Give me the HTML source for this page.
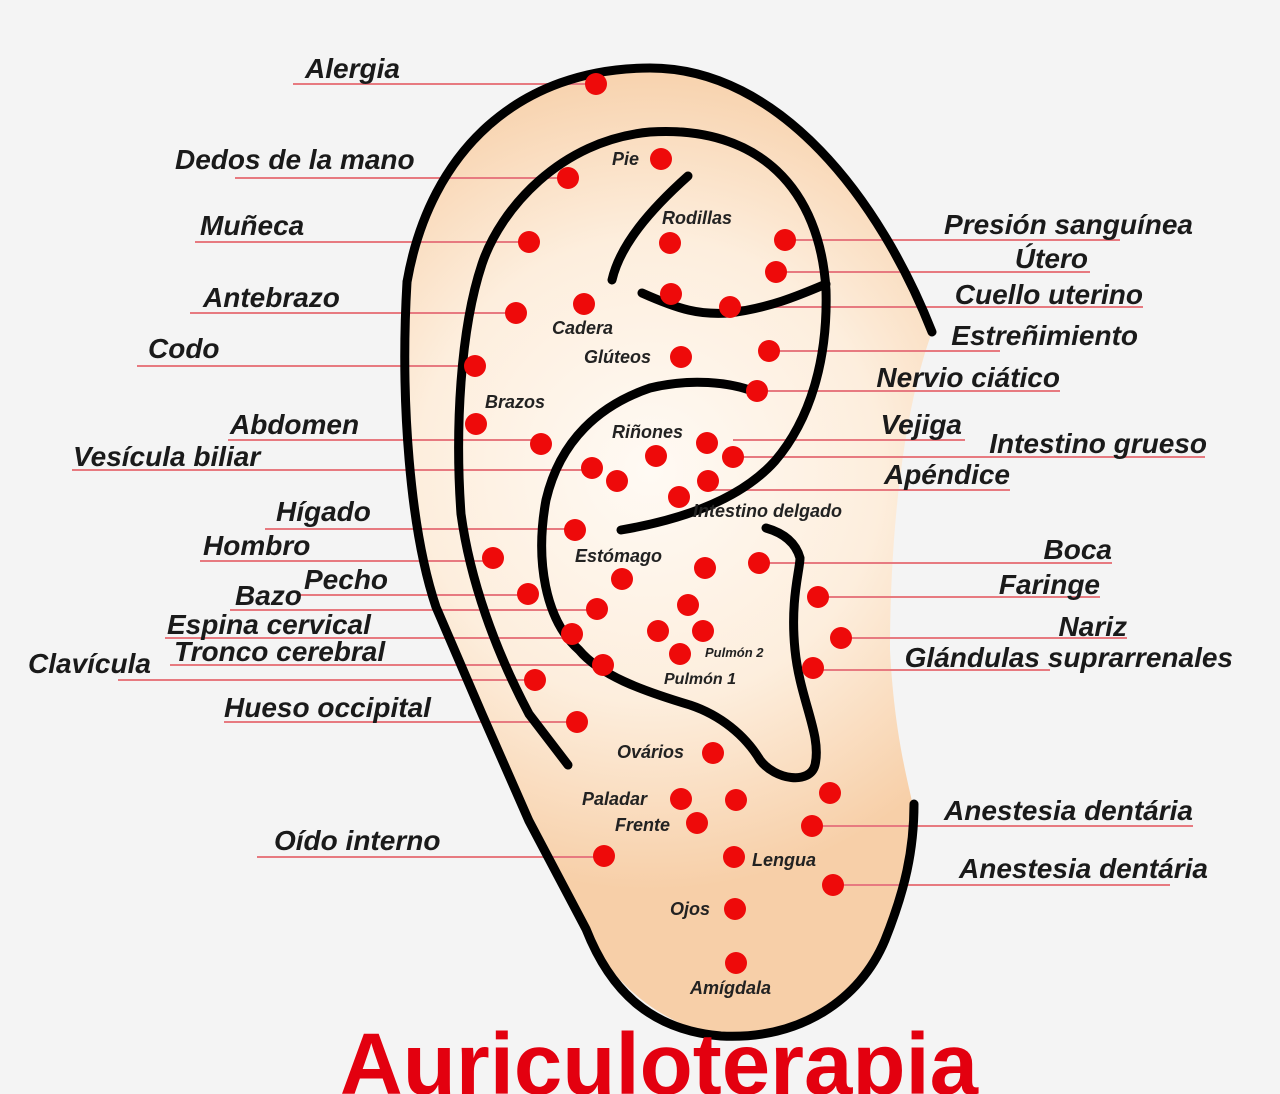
<!DOCTYPE html>
<html><head><meta charset="utf-8"><style>
html,body{margin:0;padding:0;background:#f4f4f4;}
svg{display:block}
.l{font-family:"Liberation Sans",sans-serif;font-weight:bold;font-style:italic;font-size:28px;fill:#1a1a1a}
.s{font-family:"Liberation Sans",sans-serif;font-weight:bold;font-style:italic;font-size:18px;fill:#222}
.ln{stroke:#e77a80;stroke-width:2;fill:none}
.k{stroke:#000;fill:none;stroke-linecap:round}
</style></head><body>
<svg width="1280" height="1094" viewBox="0 0 1280 1094">
<defs>
<radialGradient id="g" cx="650" cy="470" r="420" gradientUnits="userSpaceOnUse">
<stop offset="0" stop-color="#fffaf4"/><stop offset="0.55" stop-color="#fdeedd"/><stop offset="1" stop-color="#f7cfa8"/>
</radialGradient>
</defs>
<rect width="1280" height="1094" fill="#f4f4f4"/>
<path d="M407,282 C430,150 520,68 650,68 C780,68 880,200 932,332 C900,420 890,550 890,650 C895,750 914,800 914,814 C905,950 850,1030 721,1036 C640,1020 600,960 586,929 L529,821 L482,714 L436,607 C410,530 400,400 407,282 Z" fill="url(#g)"/>
<g class="ln">
<path d="M293,84H596M235,178H568M195,242H529M190,313H516M137,366H475M228,440H541M72,470H592M265,529H575M200,561H493M300,595H528M230,610H597M165,638H572M170,665H603M118,680H535M224,722H577M257,857H604"/>
<path d="M785,240H1120M776,272H1090M730,307H1143M769,351H1000M757,391H1060M733,440H965M733,457H1205M708,490H1010M759,563H1112M818,597H1100M841,638H1127M813,670H1050M812,826H1193M833,885H1170"/>
</g>
<g class="k">
<path d="M407,282 C430,150 520,68 650,68 C780,68 880,200 932,332" stroke-width="9"/>
<path d="M407,282 C400,400 410,530 436,607 L482,714 L529,821 L586,929 C610,990 650,1030 721,1036 C800,1040 860,1000 885,940 C905,890 914,850 914,804" stroke-width="9"/>
<path d="M568,765 L529,714 C495,650 470,580 461,514 C455,430 460,330 482,264 C500,210 560,140 650,132 C760,125 820,190 826,290 C828,360 810,420 775,461 C740,500 680,520 621,530" stroke-width="9"/>
<path d="M642,293 C680,310 700,315 729,313 C770,308 800,295 826,284" stroke-width="9"/>
<path d="M688,176 C650,210 620,245 612,280" stroke-width="9"/>
<path d="M755,392 C730,382 690,378 650,388 C600,405 560,440 546,500 C535,560 545,620 579,650 C600,675 640,690 690,705 C720,715 745,735 760,760 C775,780 810,785 815,765 C822,735 800,700 795,650 C790,600 800,570 800,558 C795,540 780,532 766,528" stroke-width="9"/>
</g>
<g fill="#ee0a0a">
<circle cx="596" cy="84" r="11"/><circle cx="568" cy="178" r="11"/><circle cx="661" cy="159" r="11"/><circle cx="529" cy="242" r="11"/><circle cx="670" cy="243" r="11"/><circle cx="785" cy="240" r="11"/><circle cx="776" cy="272" r="11"/><circle cx="516" cy="313" r="11"/><circle cx="584" cy="304" r="11"/><circle cx="671" cy="294" r="11"/><circle cx="730" cy="307" r="11"/><circle cx="475" cy="366" r="11"/><circle cx="681" cy="357" r="11"/><circle cx="769" cy="351" r="11"/><circle cx="757" cy="391" r="11"/><circle cx="476" cy="424" r="11"/><circle cx="541" cy="444" r="11"/><circle cx="656" cy="456" r="11"/><circle cx="707" cy="443" r="11"/><circle cx="733" cy="457" r="11"/><circle cx="592" cy="468" r="11"/><circle cx="617" cy="481" r="11"/><circle cx="708" cy="481" r="11"/><circle cx="679" cy="497" r="11"/><circle cx="575" cy="530" r="11"/><circle cx="493" cy="558" r="11"/><circle cx="622" cy="579" r="11"/><circle cx="705" cy="568" r="11"/><circle cx="759" cy="563" r="11"/><circle cx="528" cy="594" r="11"/><circle cx="597" cy="609" r="11"/><circle cx="688" cy="605" r="11"/><circle cx="818" cy="597" r="11"/><circle cx="658" cy="631" r="11"/><circle cx="703" cy="631" r="11"/><circle cx="841" cy="638" r="11"/><circle cx="572" cy="634" r="11"/><circle cx="680" cy="654" r="11"/><circle cx="813" cy="668" r="11"/><circle cx="603" cy="665" r="11"/><circle cx="535" cy="680" r="11"/><circle cx="577" cy="722" r="11"/><circle cx="713" cy="753" r="11"/><circle cx="681" cy="799" r="11"/><circle cx="736" cy="800" r="11"/><circle cx="830" cy="793" r="11"/><circle cx="697" cy="823" r="11"/><circle cx="812" cy="826" r="11"/><circle cx="604" cy="856" r="11"/><circle cx="734" cy="857" r="11"/><circle cx="833" cy="885" r="11"/><circle cx="735" cy="909" r="11"/><circle cx="736" cy="963" r="11"/>
</g>
<g class="l">
<text x="305" y="78">Alergia</text>
<text x="175" y="169">Dedos de la mano</text>
<text x="200" y="235">Muñeca</text>
<text x="203" y="307">Antebrazo</text>
<text x="148" y="358">Codo</text>
<text x="230" y="434">Abdomen</text>
<text x="73" y="466">Vesícula biliar</text>
<text x="276" y="521">Hígado</text>
<text x="203" y="555">Hombro</text>
<text x="304" y="589">Pecho</text>
<text x="235" y="605">Bazo</text>
<text x="167" y="634">Espina cervical</text>
<text x="174" y="661">Tronco cerebral</text>
<text x="28" y="673">Clavícula</text>
<text x="224" y="717">Hueso occipital</text>
<text x="274" y="850">Oído interno</text>
</g>
<g class="l" text-anchor="end">
<text x="1193" y="234">Presión sanguínea</text>
<text x="1088" y="268">Útero</text>
<text x="1143" y="304">Cuello uterino</text>
<text x="1138" y="345">Estreñimiento</text>
<text x="1060" y="387">Nervio ciático</text>
<text x="962" y="434">Vejiga</text>
<text x="1207" y="453">Intestino grueso</text>
<text x="1010" y="484">Apéndice</text>
<text x="1112" y="559">Boca</text>
<text x="1100" y="594">Faringe</text>
<text x="1127" y="636">Nariz</text>
<text x="1233" y="667">Glándulas suprarrenales</text>
<text x="1193" y="820">Anestesia dentária</text>
<text x="1208" y="878">Anestesia dentária</text>
</g>
<g class="s">
<text x="612" y="165">Pie</text>
<text x="662" y="224">Rodillas</text>
<text x="552" y="334">Cadera</text>
<text x="584" y="363">Glúteos</text>
<text x="485" y="408">Brazos</text>
<text x="612" y="438">Riñones</text>
<text x="693" y="517">Intestino delgado</text>
<text x="575" y="562">Estómago</text>
<text x="705" y="657" style="font-size:13px">Pulmón 2</text>
<text x="664" y="684" style="font-size:16px">Pulmón 1</text>
<text x="617" y="758">Ovários</text>
<text x="582" y="805">Paladar</text>
<text x="615" y="831">Frente</text>
<text x="752" y="866">Lengua</text>
<text x="670" y="915">Ojos</text>
<text x="690" y="994">Amígdala</text>
</g>
<text x="659" y="1094" text-anchor="middle" style="font-family:'Liberation Sans',sans-serif;font-weight:bold;font-size:87px;fill:#e3000f">Auriculoterapia</text>
</svg>
</body></html>
